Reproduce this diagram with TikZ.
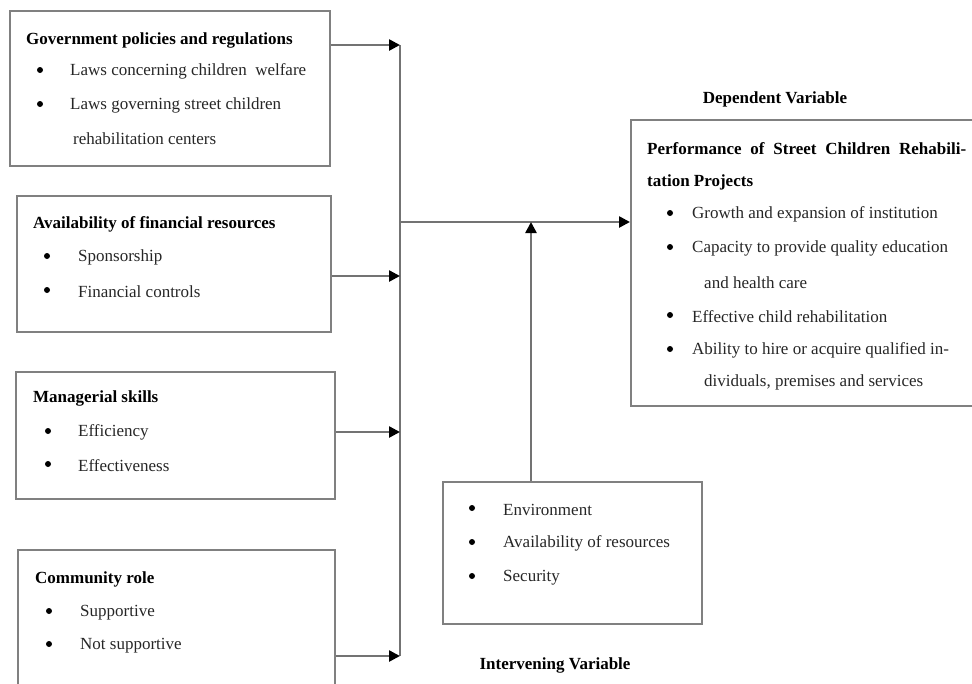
\documentclass[tikz,border=0pt]{standalone}
\usepackage{fontspec}
\setmainfont{Liberation Serif}
\usetikzlibrary{positioning, arrows.meta}

\begin{document}
\begin{tikzpicture}[
    % GLOBAL CFG
    x=1pt, y=-1pt,
    font=\fontsize{17}{20}\selectfont,
    % Styles
    box/.style={% For the variable boxes
        rectangle,
        draw=black!50,
        line width=2.2pt,
        anchor=north west,
        inner sep=0pt,
        },
    ttl/.style={% For box titles
        anchor=west,
        inner sep=0pt,
        yshift=-2pt,
        font=\fontsize{17}{20}\selectfont\bfseries,
        },
    txt/.style={% For bullet texts
        anchor=west,
        inner sep=0pt,
        yshift=-1.5pt,
        text=black!85,
        },
    dot/.style={% For bullets
        circle,
        fill=black,
        minimum size=6pt,
        inner sep=0pt,
        },
    link/.style={% Plain connector
        draw=black!55,
        line width=2.5pt,
        },
    arr/.style={% Connector with arrow head
        link,
        -{Triangle[black, length=11pt, width=11pt]},
        },
    ]

    \clip (0,0) rectangle (972,683);

    % Draw the boxes:
    \node[box, minimum width=320pt, minimum height=155pt] (gov) at (9,10) {};
    \node[box, minimum width=314pt, minimum height=136pt] (fin) at (16,195) {};
    \node[box, minimum width=319pt, minimum height=127pt] (man) at (15,371) {};
    \node[box, minimum width=317pt, minimum height=160pt] (com) at (17,549) {};
    \node[box, minimum width=360pt, minimum height=286pt] (dep) at (630,119) {};
    \node[box, minimum width=259pt, minimum height=142pt] (int) at (442,481) {};

    % Government policies
    \node[ttl] (govT) at (26,38) {Government policies and regulations};
    \node[dot] (govD1) at (40,70) {};
    \node[txt] (govL1) at (70,70) {Laws concerning children\ \ welfare};
    \node[dot] (govD2) at (40,104) {};
    \node[txt] (govL2) at (70,104) {Laws governing street children};
    \node[txt] (govL3) at (73,137) {rehabilitation centers};

    % Financial resources
    \node[ttl] (finT) at (33,222) {Availability of financial resources};
    \node[dot] (finD1) at (47,256) {};
    \node[txt] (finL1) at (78,256) {Sponsorship};
    \node[dot] (finD2) at (47,290) {};
    \node[txt] (finL2) at (78,290) {Financial controls};

    % Managerial skills
    \node[ttl] (manT) at (33,396) {Managerial skills};
    \node[dot] (manD1) at (48,431) {};
    \node[txt] (manL1) at (78,431) {Efficiency};
    \node[dot] (manD2) at (48,464) {};
    \node[txt] (manL2) at (78,464) {Effectiveness};

    % Community role
    \node[ttl] (comT) at (35,577) {Community role};
    \node[dot] (comD1) at (49,611) {};
    \node[txt] (comL1) at (80,611) {Supportive};
    \node[dot] (comD2) at (49,644) {};
    \node[txt] (comL2) at (80,644) {Not supportive};

    % Dependent variable
    \node[ttl, anchor=center] (depH) at (775,97) {Dependent Variable};
    \node[ttl] (depT1) at (647,147) {\makebox[319pt][s]{Performance of Street Children Rehabili-}};
    \node[ttl] (depT2) at (647,180) {tation Projects};
    \node[dot] (depD1) at (670,213) {};
    \node[txt] (depL1) at (692,213) {Growth and expansion of institution};
    \node[dot] (depD2) at (670,247) {};
    \node[txt] (depL2) at (692,247) {Capacity to provide quality education};
    \node[txt] (depL3) at (704,281) {and health care};
    \node[dot] (depD3) at (670,315) {};
    \node[txt] (depL4) at (692,315) {Effective child rehabilitation};
    \node[dot] (depD4) at (670,349) {};
    \node[txt] (depL5) at (692,349) {Ability to hire or acquire qualified in-};
    \node[txt] (depL6) at (704,381) {dividuals, premises and services};

    % Intervening variable
    \node[dot] (intD1) at (472,508) {};
    \node[txt] (intL1) at (503,508) {Environment};
    \node[dot] (intD2) at (472,542) {};
    \node[txt] (intL2) at (503,542) {Availability of resources};
    \node[dot] (intD3) at (472,576) {};
    \node[txt] (intL3) at (503,576) {Security};
    \node[ttl, anchor=center] (intH) at (555,663) {Intervening Variable};

% Start connecting all.
    \coordinate (b1) at (400,45);
    \coordinate (b2) at (400,276);
    \coordinate (b3) at (400,432);
    \coordinate (b4) at (400,656);
    \coordinate (bj) at (400,222);
    \coordinate (meet) at (531,222);

    % Inputs
    \draw [link] (b1) -- (b4);
    \draw [arr] (gov.east |- b1) -- (b1);
    \draw [arr] (fin.east |- b2) -- (b2);
    \draw [arr] (man.east |- b3) -- (b3);
    \draw [arr] (com.east |- b4) -- (b4);

    % Outputs
    \draw [arr] (bj) -- (dep.west |- bj);
    \draw [arr] (int.north -| meet) -- (meet);

\end{tikzpicture}
\end{document}
